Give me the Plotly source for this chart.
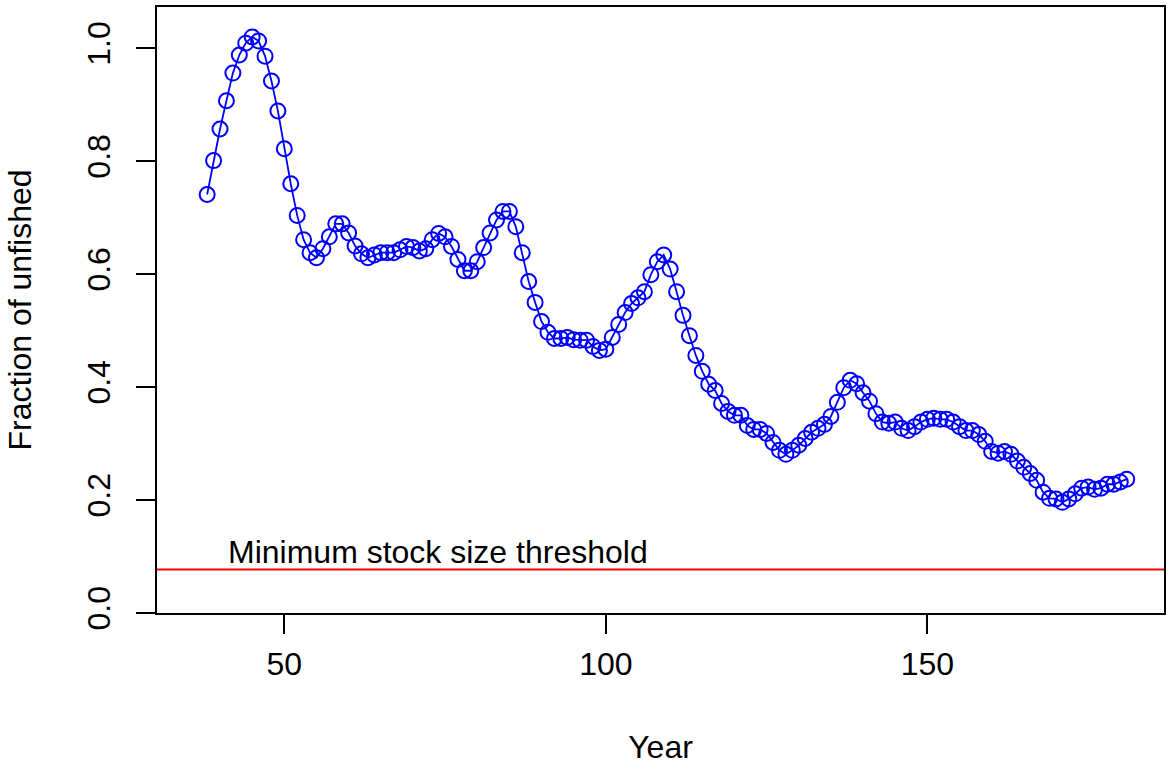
import plotly.graph_objects as go

years = list(range(38, 182))
fraction_unfished = [
    0.741, 0.801, 0.857, 0.907, 0.956, 0.988, 1.009, 1.020, 1.013, 0.986,
    0.942, 0.889, 0.822, 0.760, 0.704, 0.661, 0.638, 0.629, 0.645, 0.666,
    0.689, 0.689, 0.673, 0.650, 0.636, 0.629, 0.634, 0.638, 0.638, 0.638,
    0.643, 0.649, 0.647, 0.641, 0.645, 0.661, 0.672, 0.666, 0.649, 0.626,
    0.606, 0.606, 0.622, 0.647, 0.673, 0.696, 0.711, 0.711, 0.684, 0.638,
    0.587, 0.550, 0.516, 0.497, 0.486, 0.486, 0.488, 0.484, 0.483, 0.483,
    0.472, 0.465, 0.467, 0.488, 0.511, 0.532, 0.548, 0.558, 0.569, 0.599,
    0.622, 0.634, 0.609, 0.569, 0.527, 0.491, 0.456, 0.428, 0.405, 0.394,
    0.371, 0.357, 0.350, 0.350, 0.332, 0.325, 0.325, 0.318, 0.302, 0.288,
    0.281, 0.288, 0.297, 0.309, 0.320, 0.327, 0.334, 0.348, 0.373, 0.399,
    0.412, 0.406, 0.390, 0.375, 0.353, 0.338, 0.336, 0.338, 0.327, 0.323,
    0.330, 0.338, 0.343, 0.345, 0.343, 0.343, 0.338, 0.330, 0.323, 0.323,
    0.316, 0.304, 0.286, 0.283, 0.286, 0.281, 0.269, 0.258, 0.247, 0.235,
    0.214, 0.203, 0.202, 0.196, 0.202, 0.211, 0.221, 0.223, 0.219, 0.221,
    0.228, 0.228, 0.232, 0.237,
]
threshold = 0.077
threshold_label = "Minimum stock size threshold"
label_year = 41.0
x_ticks = [50, 100, 150]
y_ticks = [0.0, 0.2, 0.4, 0.6, 0.8, 1.0]
y_tick_text = ["0.0", "0.2", "0.4", "0.6", "0.8", "1.0"]

FONT = "Liberation Sans, Arial, sans-serif"
FS = 32

fig = go.Figure()
fig.add_trace(go.Scatter(
    x=years, y=fraction_unfished, mode="lines+markers",
    line=dict(color="#0000FF", width=1.8),
    marker=dict(symbol="circle-open", size=15, color="#0000FF",
                line=dict(width=2, color="#0000FF")),
    showlegend=False, hoverinfo="x+y",
))
fig.add_shape(type="line", xref="paper", x0=0, x1=1, yref="y",
              y0=threshold, y1=threshold,
              line=dict(color="#FF0000", width=1.8))
fig.add_annotation(x=label_year, y=threshold, xref="x", yref="y",
                   text=threshold_label, showarrow=False,
                   xanchor="left", yanchor="bottom", yshift=-2,
                   font=dict(family=FONT, size=FS, color="black"))

fig.update_layout(
    width=1170, height=765,
    margin=dict(l=157, r=4, t=7, b=151),
    paper_bgcolor="white", plot_bgcolor="white",
    font=dict(family=FONT, size=FS, color="black"),
    xaxis=dict(
        range=[30.2, 186.8], tickvals=x_ticks, ticks="outside", ticklen=19,
        tickwidth=1.5, tickcolor="black", showline=True, mirror=True,
        linecolor="black", linewidth=1.5, showgrid=False, zeroline=False,
        tickfont=dict(family=FONT, size=FS), ticklabelstandoff=3,
        title=dict(text="Year", font=dict(family=FONT, size=FS), standoff=56),
    ),
    yaxis=dict(
        range=[0, 1.073], tickvals=y_ticks, ticktext=y_tick_text,
        ticks="outside", ticklen=19, tickwidth=1.5, tickcolor="black",
        showline=True, mirror=True, linecolor="black", linewidth=1.5,
        showgrid=False, zeroline=False, tickangle=-90,
        tickfont=dict(family=FONT, size=FS), ticklabelstandoff=13,
        title=dict(text="Fraction of unfished", font=dict(family=FONT, size=FS),
                   standoff=40),
    ),
)

fig.write_html("out.html",
               config={"displayModeBar": False},
               post_script="document.body.style.margin='0';document.body.style.overflow='hidden';")
